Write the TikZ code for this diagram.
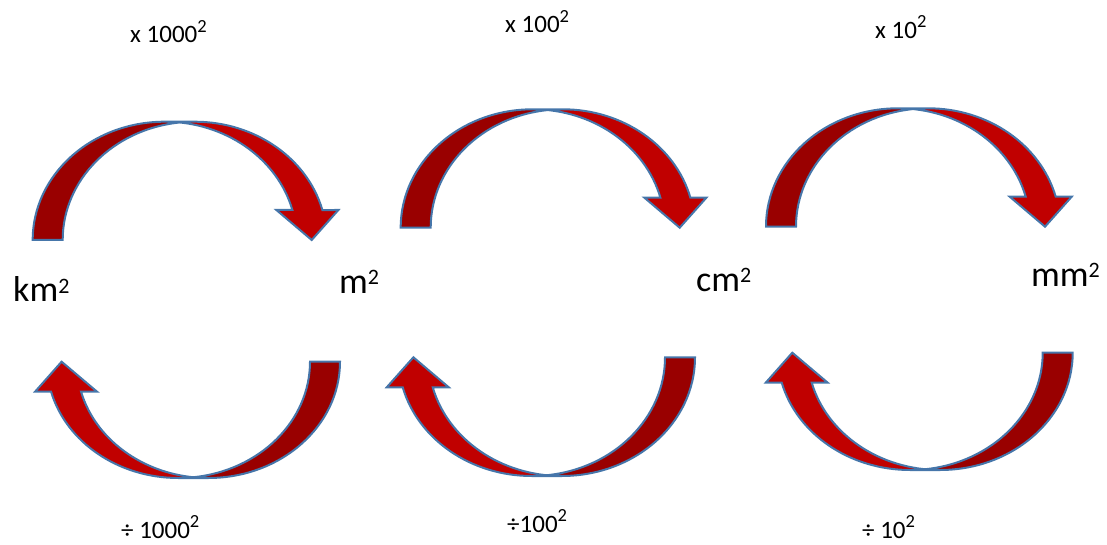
\documentclass[tikz,border=0pt]{standalone}
\usepackage{fontspec}
\usepackage{graphicx}
\setmainfont{Carlito}
\definecolor{darkred}{RGB}{153,0,0}
\definecolor{brightred}{RGB}{192,0,0}
\definecolor{edgeblue}{RGB}{70,118,170}
\newcommand{\supsm}{\raisebox{0.42em}{\fontsize{18.5}{21}\selectfont 2}}
\newcommand{\supbg}{\raisebox{0.24em}{\fontsize{22}{25}\selectfont 2}}
\tikzset{
  backpart/.style={fill=darkred, draw=none},
  frontpart/.style={fill=brightred, draw=none},
  rim/.style={draw=edgeblue, line width=2pt, line join=miter, fill=none},
  small/.style={inner sep=0pt, anchor=base west, font=\fontsize{25}{30}\selectfont},
  big/.style={inner sep=0pt, anchor=base west, font=\fontsize{36}{42}\selectfont},
  pics/curvedarrow/.style args={#1/#2}{code={
    % #1 = ellipse x radius wR, #2 = height h; band 30, head width 62, head length 30
    \pgfmathsetmacro{\wR}{#1}
    \pgfmathsetmacro{\hh}{#2}
    \pgfmathsetmacro{\ph}{asin(30/#2)}
    \pgfmathsetmacro{\dxx}{\wR*cos(\ph)}
    \pgfmathsetmacro{\xf}{\wR+\dxx}
    \pgfmathsetmacro{\xs}{\xf+30}
    \pgfmathsetmacro{\xq}{\xf-16}
    \pgfmathsetmacro{\xe}{\xs+16}
    \pgfmathsetmacro{\xt}{2*\wR+15}
    \pgfmathsetmacro{\al}{acos(15/\wR)}
    \pgfmathsetmacro{\iy}{\hh*sin(\al)}
    \pgfmathsetmacro{\ix}{\wR+15}
    \pgfmathsetmacro{\xtop}{\wR+30}
    \path[frontpart] (\xt,0) -- (\xq,30) -- (\xf,30)
       arc[start angle=\ph, end angle=90, x radius=\wR, y radius=\hh]
       -- (\xtop,\hh)
       arc[start angle=90, end angle=\ph, x radius=\wR, y radius=\hh]
       -- (\xe,30) -- cycle;
    \path[backpart] (0,0)
       arc[start angle=180, end angle=\al, x radius=\wR, y radius=\hh]
       arc[start angle=180-\al, end angle=180, x radius=\wR, y radius=\hh]
       -- cycle;
    \path[rim] (\ix,\iy)
       arc[start angle=180-\al, end angle=180, x radius=\wR, y radius=\hh]
       -- (0,0)
       arc[start angle=180, end angle=90, x radius=\wR, y radius=\hh]
       -- (\xtop,\hh)
       arc[start angle=90, end angle=\ph, x radius=\wR, y radius=\hh]
       -- (\xe,30) -- (\xt,0) -- (\xq,30) -- (\xf,30)
       arc[start angle=\ph, end angle=90, x radius=\wR, y radius=\hh];
  }}
}
\begin{document}
\begin{tikzpicture}[x=1pt,y=1pt]
\useasboundingbox (0,0) rectangle (1107,544);
% top arrows (origin = left end of the base; screen y -> 544 - y)
\pic (a1) at (32.7,304) {curvedarrow=132/118.3};
\pic (a2) at (400.7,316.3) {curvedarrow=132/118.4};
\pic (a3) at (766,317.3) {curvedarrow=132/118.4};
% bottom arrows (turned half round; origin = right end of the base)
\pic[rotate=180] (b1) at (340,182.3) {curvedarrow=131.7/116.3};
\pic[rotate=180] (b2) at (695,186.7) {curvedarrow=133.3/118.7};
\pic[rotate=180] (b3) at (1072.7,191.3) {curvedarrow=132.7/117.3};
% labels
\node[small] (t1) at (130,501) {x 1000\supsm};
\node[small] (t2) at (505,511) {x 100\supsm};
\node[small] (t3) at (875,505.7) {x 10\supsm};
\node[big] (km) at (13,242.3) {km\supbg};
\node[big] (m) at (339,251) {m\supbg};
\node[big] (cm) at (696,253) {cm\supbg};
\node[big] (mm) at (1031,258) {mm\supbg};
\node[small] (d1) at (121,6) {÷ 1000\supsm};
\node[small] (d2) at (507,12) {÷100\supsm};
\node[small] (d3) at (862,6) {÷ 10\supsm};
\end{tikzpicture}
\end{document}
